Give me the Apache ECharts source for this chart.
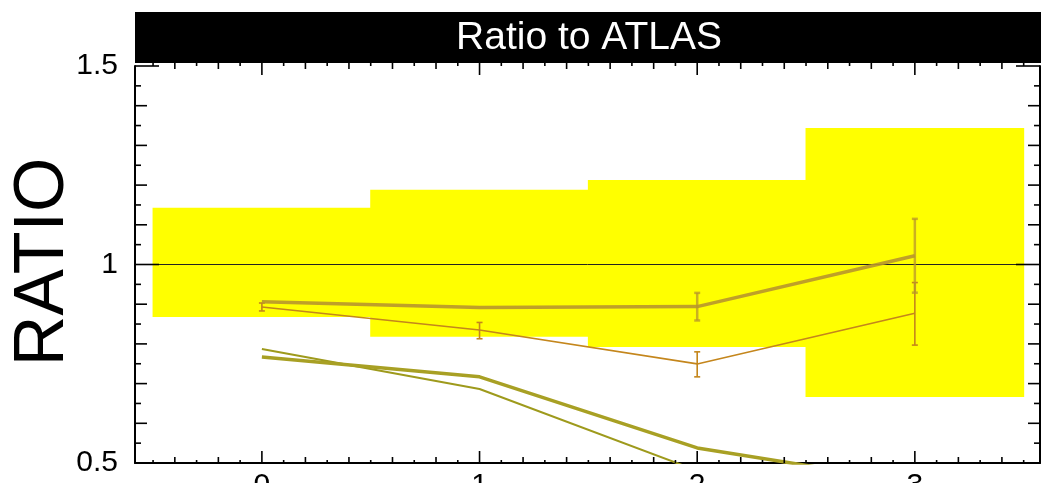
<!DOCTYPE html>
<html>
<head>
<meta charset="utf-8">
<script src="https://cdn.jsdelivr.net/npm/echarts@6/dist/echarts.min.js"></script>
<style>
html,body{margin:0;padding:0;background:#fff;}
#c{width:1041px;height:483px;}
</style>
</head>
<body>
<div id="c"></div>
<script>
// ---- data ----
const xPoints = [0, 1, 2, 3];
const xTickLabels = [0, 1, 2, 3];
const yTickLabels = [0.5, 1, 1.5];
// yellow uncertainty bands: [xLow, xHigh, yLow, yHigh]
const bandBins = [
  [-0.5, 0.5, 0.868, 1.143],
  [0.5, 1.5, 0.818, 1.188],
  [1.5, 2.5, 0.792, 1.213],
  [2.5, 3.5, 0.666, 1.344]
];
const thickGold = [0.906, 0.892, 0.894, 1.022];
const thickGoldErr = [[2, 0.859, 0.9285], [3, 0.929, 1.115]];
const thinOrange = [0.893, 0.835, 0.7496, 0.877];
const thinOrangeErr = [[0, 0.883, 0.903], [1, 0.813, 0.854], [2, 0.717, 0.78], [3, 0.797, 0.9545]];
const oliveThick = [0.767, 0.717, 0.538, 0.45];
const oliveThin = [0.787, 0.6865, 0.4807];

const X_MIN = -0.583, X_MAX = 3.575;

const pairs = (vals) => vals.map((v, i) => [xPoints[i], v]);

// tick marks: [x, y, kind(0=x,1=y), length]
const xTicks = [];
for (let k = -5; k <= 35; k++) {
  const v = k / 10;
  const len = (k % 10 === 0) ? 12 : (k % 2 === 0 ? 6 : 3);
  xTicks.push([v, 0.5, 0, len]);
}
const yTicks = [];
for (let k = 10; k <= 30; k++) {
  const v = k / 20;
  const len = (k % 10 === 0) ? 24 : (k % 2 === 0 ? 12 : 6);
  yTicks.push([X_MIN, v, 1, len]);
}

function tickRender(params, api) {
  const cs = params.coordSys;
  const kind = api.value(2), len = api.value(3);
  const st = { stroke: '#000', lineWidth: 1.6 };
  if (kind === 0) {
    const x = api.coord([api.value(0), 0.5])[0];
    const yb = cs.y + cs.height, yt = cs.y - 3;
    return { type: 'group', children: [
      { type: 'line', shape: { x1: x, y1: yb, x2: x, y2: yb - len }, style: st },
      { type: 'line', shape: { x1: x, y1: yt, x2: x, y2: yt + len }, style: st }
    ]};
  } else {
    const y = api.coord([X_MIN, api.value(1)])[1];
    const xl = cs.x, xr = cs.x + cs.width;
    return { type: 'group', children: [
      { type: 'line', shape: { x1: xl, y1: y, x2: xl + len, y2: y }, style: st },
      { type: 'line', shape: { x1: xr, y1: y, x2: xr - len, y2: y }, style: st }
    ]};
  }
}

function bandRender(params, api) {
  const p1 = api.coord([api.value(0), api.value(3)]);
  const p2 = api.coord([api.value(1), api.value(2)]);
  return { type: 'rect', shape: { x: p1[0] - 0.5, y: p1[1], width: p2[0] - p1[0] + 1, height: p2[1] - p1[1] },
    style: { fill: '#ffff00' } };
}

function errRender(color, width, opacity) {
  return function (params, api) {
    const top = api.coord([api.value(0), api.value(2)]);
    const bot = api.coord([api.value(0), api.value(1)]);
    const st = { stroke: color, lineWidth: width, opacity: opacity };
    const c = 3;
    return { type: 'group', children: [
      { type: 'line', shape: { x1: top[0], y1: top[1], x2: bot[0], y2: bot[1] }, style: st },
      { type: 'line', shape: { x1: top[0] - c, y1: top[1], x2: top[0] + c, y2: top[1] }, style: st },
      { type: 'line', shape: { x1: bot[0] - c, y1: bot[1], x2: bot[0] + c, y2: bot[1] }, style: st }
    ]};
  };
}

const FONT = 'Liberation Sans, Arial, Helvetica, sans-serif';
const chart = echarts.init(document.getElementById('c'), null, { renderer: 'canvas' });
chart.setOption({
  animation: false,
  backgroundColor: '#fff',
  grid: { left: 135, right: 1, top: 66, bottom: 20, containLabel: false, outerBoundsMode: 'none' },
  xAxis: {
    type: 'value', min: X_MIN, max: X_MAX,
    axisLine: { show: true, onZero: false, lineStyle: { color: '#000', width: 2 } },
    axisTick: { show: false },
    splitLine: { show: false },
    axisLabel: { customValues: xTickLabels, color: '#000', fontSize: 30, fontFamily: FONT, margin: 8,
      formatter: v => String(v) }
  },
  yAxis: [{
    type: 'value', min: 0.5, max: 1.5,
    axisLine: { show: true, onZero: false, lineStyle: { color: '#000', width: 2 } },
    axisTick: { show: false },
    splitLine: { show: false },
    axisLabel: { customValues: yTickLabels, color: '#000', fontSize: 30, fontFamily: FONT, margin: 17,
      formatter: v => String(v) }
  }, {
    type: 'value', min: 0.5, max: 1.5, position: 'right',
    axisLine: { show: true, onZero: false, lineStyle: { color: '#000', width: 2 } },
    axisTick: { show: false }, axisLabel: { show: false }, splitLine: { show: false }
  }],
  graphic: [
    { type: 'rect', left: 135, top: 12, shape: { width: 906, height: 51 }, style: { fill: '#000' }, z: 100 },
    { type: 'text', x: 589, y: 38, style: { text: 'Ratio to ATLAS', fill: '#fff', font: '39px ' + FONT,
      textAlign: 'center', textVerticalAlign: 'middle' }, z: 101 },
    { type: 'text', x: 44, y: 262, rotation: Math.PI / 2, style: { text: 'RATIO', fill: '#000',
      font: '70px ' + FONT, textAlign: 'center', textVerticalAlign: 'middle' }, z: 101 }
  ],
  series: [
    { type: 'custom', name: 'bands', renderItem: bandRender, data: bandBins, z: 1, silent: true,
      encode: { x: [0, 1], y: [2, 3] } },
    { type: 'line', name: 'unity', data: [[X_MIN, 1], [X_MAX, 1]], symbol: 'none', z: 2,
      lineStyle: { color: '#222', width: 1 } },
    { type: 'line', name: 'oliveThin', data: pairs(oliveThin), symbol: 'none', z: 3,
      lineStyle: { color: '#9e9a1c', width: 2 } },
    { type: 'line', name: 'oliveThick', data: pairs(oliveThick), symbol: 'none', z: 3,
      lineStyle: { color: '#a8a024', width: 3.5 } },
    { type: 'line', name: 'thinOrange', data: pairs(thinOrange), symbol: 'none', z: 4,
      lineStyle: { color: '#c4861c', width: 1.6 } },
    { type: 'custom', name: 'thinOrangeErr', renderItem: errRender('#c4861c', 1.6, 1), data: thinOrangeErr, z: 4,
      encode: { x: 0, y: [1, 2] } },
    { type: 'line', name: 'thickGold', data: pairs(thickGold), symbol: 'none', z: 5,
      lineStyle: { color: '#b8962c', width: 3.5, opacity: 0.9 } },
    { type: 'custom', name: 'thickGoldErr', renderItem: errRender('#b8962c', 2.5, 0.75), data: thickGoldErr, z: 5,
      encode: { x: 0, y: [1, 2] } },
    { type: 'custom', name: 'xTicks', renderItem: tickRender, data: xTicks, z: 10, silent: true,
      encode: { x: 0, y: 1 } },
    { type: 'custom', name: 'yTicks', renderItem: tickRender, data: yTicks, z: 10, silent: true,
      encode: { x: 0, y: 1 } }
  ]
});
</script>
</body>
</html>
